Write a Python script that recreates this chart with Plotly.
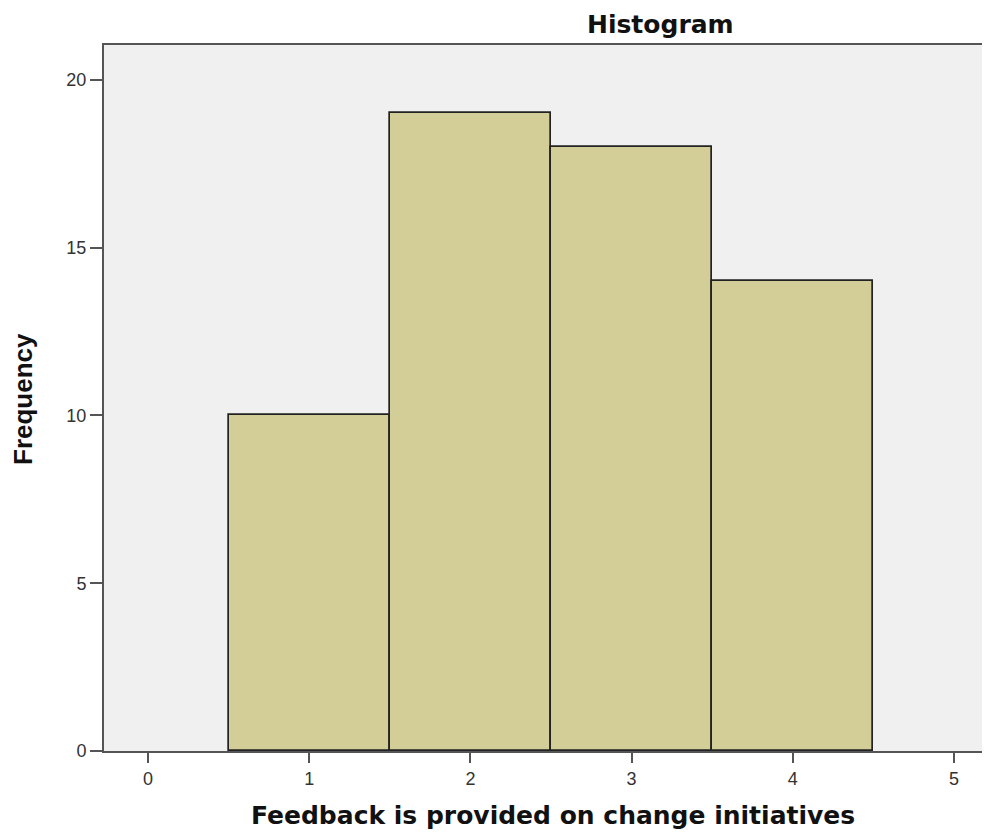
import plotly.graph_objects as go

categories = [1, 2, 3, 4]
frequencies = [10, 19, 18, 14]
x_ticks = [0, 1, 2, 3, 4, 5]
y_ticks = [0, 5, 10, 15, 20]

# page body has an 8px offset; compensate so plot area lands at x 104..(past 990), y 45..751
OFF = 8
L, T, PH = 104 - OFF, 45 - OFF, 706
W, H = 990, 833 - OFF
PW = W - L

fig = go.Figure()
fig.add_trace(go.Bar(
    x=categories, y=frequencies, width=1,
    marker=dict(color="#D3CE98", line=dict(color="#222222", width=1.7)),
    showlegend=False,
))

axis_color = "#555555"
fig.update_layout(
    width=W, height=H,
    margin=dict(l=L, r=0, t=T, b=H - T - PH, pad=0),
    paper_bgcolor="white",
    plot_bgcolor="#F0F0F0",
    font=dict(family="Liberation Sans, Arial, sans-serif", color="#333333"),
    bargap=0,
    xaxis=dict(
        range=[-0.273, 5.273],
        tickvals=x_ticks, ticktext=[str(v) for v in x_ticks],
        showgrid=False, zeroline=False,
        showline=True, linecolor=axis_color, linewidth=2, mirror=True,
        ticks="outside", ticklen=10, tickwidth=2, tickcolor=axis_color,
        tickfont=dict(size=18, color="#333333"),
    ),
    yaxis=dict(
        range=[0, 21.04],
        tickvals=y_ticks, ticktext=[str(v) for v in y_ticks],
        showgrid=False, zeroline=False,
        showline=True, linecolor=axis_color, linewidth=2, mirror=False,
        ticks="outside", ticklen=12, tickwidth=2, tickcolor=axis_color,
        tickfont=dict(size=18, color="#333333"),
    ),
    annotations=[
        dict(text="<b>Histogram</b>", xref="paper", yref="paper",
             x=(660 - 104) / PW, y=1 + (45 - 24) / PH,
             xanchor="center", yanchor="middle", showarrow=False,
             font=dict(family="DejaVu Sans, sans-serif", size=25, color="#111111")),
        dict(text="<b>Feedback is provided on change initiatives</b>",
             xref="paper", yref="paper",
             x=(553 - 104) / PW, y=-(816 - 751) / PH,
             xanchor="center", yanchor="middle", showarrow=False,
             font=dict(family="DejaVu Sans, sans-serif", size=25, color="#111111")),
        dict(text="<b>Frequency</b>", xref="paper", yref="paper",
             x=-(104 - 23) / PW, y=(751 - 399) / PH,
             xanchor="center", yanchor="middle", showarrow=False, textangle=-90,
             font=dict(family="Liberation Sans, Arial, sans-serif", size=26, color="#111111")),
    ],
)

fig.write_html("out.html")
